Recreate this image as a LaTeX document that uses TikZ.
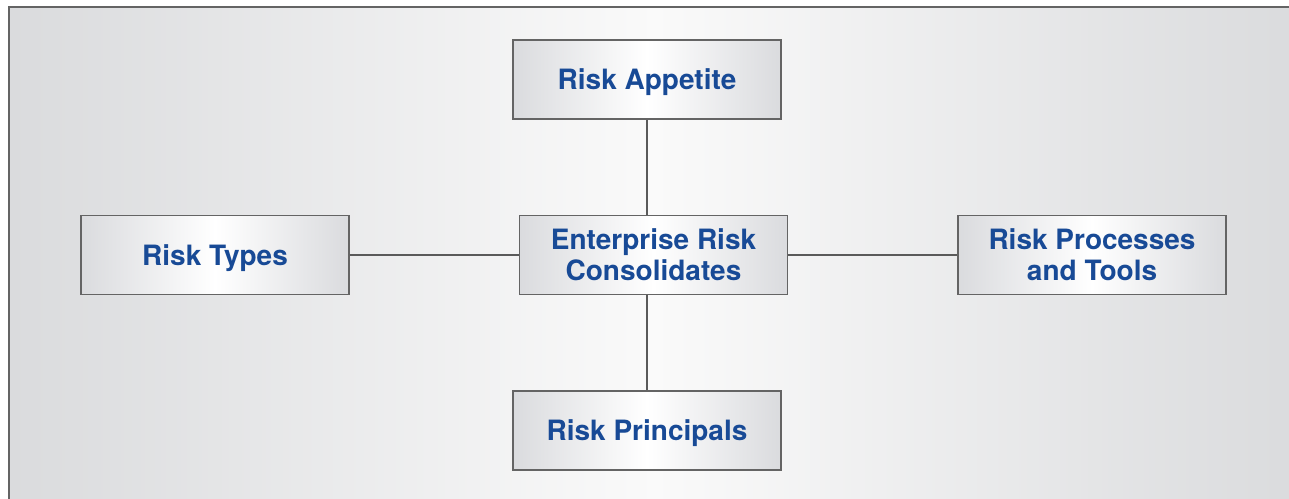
\documentclass[tikz,border=0pt]{standalone}
\usepackage{fontspec}
\setmainfont{TeX Gyre Heros}
\usepackage{xcolor}
\usepackage{tikz}
\usetikzlibrary{positioning}

\definecolor{riskblue}{RGB}{24,74,150}
\definecolor{bggray}{RGB}{218,219,221}
\definecolor{boxgray}{RGB}{218,219,222}
\definecolor{framegray}{RGB}{100,100,100}

\tikzset{
	riskbox/.style={draw=framegray, line width=1.5pt, left color=boxgray, right color=boxgray, middle color=white,
		minimum width=268pt, minimum height=79pt, inner sep=0pt, align=center, text depth=0pt,
		text=riskblue, font=\fontsize{28}{31}\selectfont\bfseries},
	link/.style={draw=framegray!90!black, line width=1.3pt}
}

\begin{document}
\begin{tikzpicture}[x=1pt,y=-1pt]
	\useasboundingbox (0,0) rectangle (1289,498);
	\fill[left color=bggray, right color=bggray, middle color=white!96!gray] (9,7) rectangle (1300,510);
	\draw[framegray, line width=2pt] (1300,7) -- (9,7) -- (9,510);

	\node[riskbox] (ec) at (653.5,255) {Enterprise Risk\\Consolidates};
	\node[riskbox] (ra) [above = 95pt of ec, xshift=-6.5pt] {Risk Appetite};
	\node[riskbox] (rp) [below = 95pt of ec, xshift=-6.5pt] {Risk Principals};
	\node[riskbox] (rt) [left = 169pt of ec] {Risk Types};
	\node[riskbox] (rpt) [right = 169pt of ec] {Risk Processes\\and Tools};

	\draw[link] (ra) -- (ra |- ec.north);
	\draw[link] (rp) -- (rp |- ec.south);
	\draw[link] (rt) -- (ec);
	\draw[link] (ec) -- (rpt);
\end{tikzpicture}
\end{document}
